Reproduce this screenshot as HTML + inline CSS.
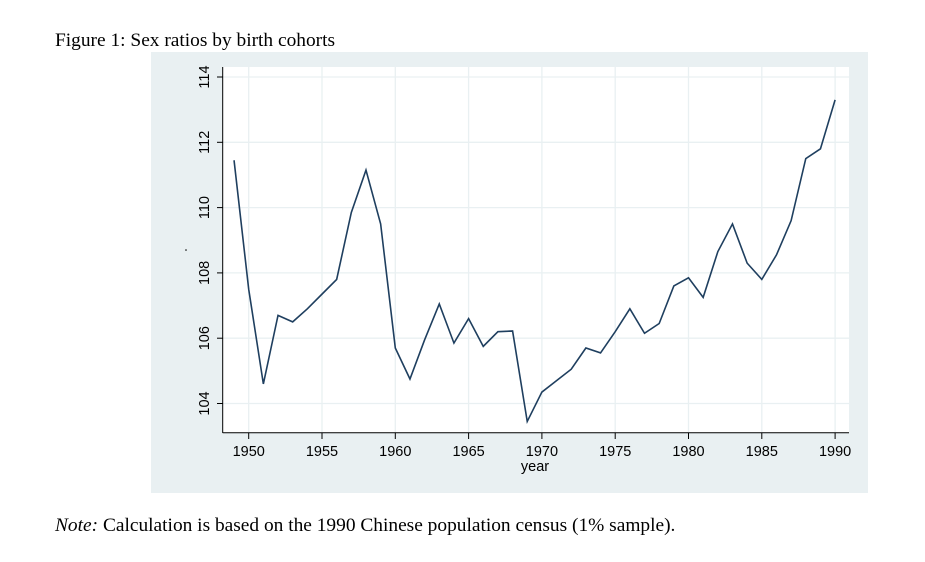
<!DOCTYPE html>
<html><head><meta charset="utf-8"><style>
body{margin:0;background:#fff;width:925px;height:562px;overflow:hidden;position:relative}
.t{position:absolute;font-family:"Liberation Serif",serif;font-size:19.4px;color:#000;white-space:nowrap}
</style></head><body>
<div class="t" style="left:55px;top:30px">Figure 1: Sex ratios by birth cohorts</div>
<div class="t" style="left:55px;top:515px"><i>Note:</i> Calculation is based on the 1990 Chinese population census (1% sample).</div>
<svg width="925" height="562" style="position:absolute;left:0;top:0" font-family="Liberation Sans, sans-serif">
<rect x="151" y="52" width="717" height="441" fill="#e9f0f2"/>
<rect x="223" y="67" width="626" height="366" fill="#fff"/>
<g stroke="#e9f0f2" stroke-width="1.3">
<line x1="223" x2="849" y1="77" y2="77"/><line x1="223" x2="849" y1="142.3" y2="142.3"/>
<line x1="223" x2="849" y1="207.6" y2="207.6"/><line x1="223" x2="849" y1="272.9" y2="272.9"/>
<line x1="223" x2="849" y1="338.2" y2="338.2"/><line x1="223" x2="849" y1="403.5" y2="403.5"/>
<line y1="67" y2="433" x1="248.7" x2="248.7"/><line y1="67" y2="433" x1="322" x2="322"/>
<line y1="67" y2="433" x1="395.3" x2="395.3"/><line y1="67" y2="433" x1="468.6" x2="468.6"/>
<line y1="67" y2="433" x1="541.9" x2="541.9"/><line y1="67" y2="433" x1="615.2" x2="615.2"/>
<line y1="67" y2="433" x1="688.5" x2="688.5"/><line y1="67" y2="433" x1="761.8" x2="761.8"/>
<line y1="67" y2="433" x1="835.1" x2="835.1"/>
</g>
<g stroke="#000" stroke-width="1">
<line x1="222.7" x2="222.7" y1="67" y2="433"/><line x1="222.7" x2="849" y1="432.7" y2="432.7"/>
<line x1="217" x2="222.7" y1="77" y2="77"/><line x1="217" x2="222.7" y1="142.3" y2="142.3"/>
<line x1="217" x2="222.7" y1="207.6" y2="207.6"/><line x1="217" x2="222.7" y1="272.9" y2="272.9"/>
<line x1="217" x2="222.7" y1="338.2" y2="338.2"/><line x1="217" x2="222.7" y1="403.5" y2="403.5"/>
<line y1="433" y2="439" x1="248.7" x2="248.7"/><line y1="433" y2="439" x1="322" x2="322"/>
<line y1="433" y2="439" x1="395.3" x2="395.3"/><line y1="433" y2="439" x1="468.6" x2="468.6"/>
<line y1="433" y2="439" x1="541.9" x2="541.9"/><line y1="433" y2="439" x1="615.2" x2="615.2"/>
<line y1="433" y2="439" x1="688.5" x2="688.5"/><line y1="433" y2="439" x1="761.8" x2="761.8"/>
<line y1="433" y2="439" x1="835.1" x2="835.1"/>
</g>
<g font-size="14.5" text-anchor="middle" fill="#000">
<text x="248.7" y="456">1950</text><text x="322" y="456">1955</text><text x="395.3" y="456">1960</text>
<text x="468.6" y="456">1965</text><text x="541.9" y="456">1970</text><text x="615.2" y="456">1975</text>
<text x="688.5" y="456">1980</text><text x="761.8" y="456">1985</text><text x="835.1" y="456">1990</text>
<text x="535" y="471">year</text>
<text transform="translate(209,77) rotate(-90)">114</text>
<text transform="translate(209,142.3) rotate(-90)">112</text>
<text transform="translate(209,207.6) rotate(-90)">110</text>
<text transform="translate(209,272.9) rotate(-90)">108</text>
<text transform="translate(209,338.2) rotate(-90)">106</text>
<text transform="translate(209,403.5) rotate(-90)">104</text>
</g>
<circle cx="186" cy="250" r="0.8" fill="#000"/>
<g transform="matrix(14.66,0,0,-32.65,248.7,3799.1)">
<polyline fill="none" stroke="#1f3f5f" stroke-width="1.6" vector-effect="non-scaling-stroke" stroke-linejoin="miter"
points="-1,111.45 0,107.5 1,104.6 2,106.7 3,106.5 4,106.9 5,107.35 6,107.8 7,109.85 8,111.15 9,109.5 10,105.7 11,104.75 12,105.95 13,107.05 14,105.85 15,106.6 16,105.75 17,106.2 18,106.22 19,103.45 20,104.35 21,104.7 22,105.05 23,105.7 24,105.55 25,106.2 26,106.9 27,106.15 28,106.45 29,107.6 30,107.85 31,107.25 32,108.65 33,109.5 34,108.3 35,107.8 36,108.55 37,109.6 38,111.5 39,111.8 40,113.3"/>
</g>
</svg>
</body></html>
